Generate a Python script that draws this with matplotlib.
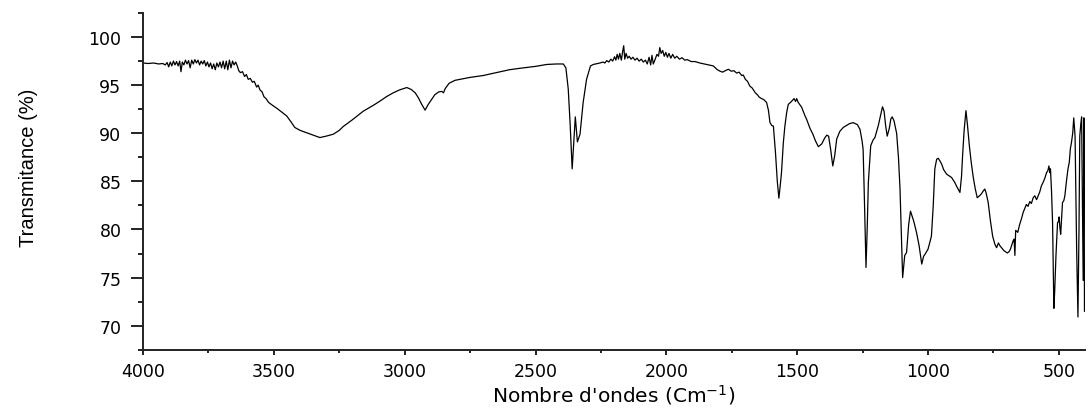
import numpy as np
import matplotlib
matplotlib.use("Agg")
import matplotlib.pyplot as plt
from matplotlib.ticker import MultipleLocator

plt.rcParams['mathtext.default'] = 'regular'

# ---- FTIR spectrum, read point by point (wavenumber in cm-1, transmittance in %) ----
# 4000 - 2250 : O-H band, C-H stretch, CO2 doublet
wn_high = [4000, 3980, 3960, 3940, 3925, 3915, 3908, 3902, 3896, 3890, 3884, 3878, 3872, 3866,
           3860, 3855, 3850, 3844, 3838, 3832, 3826, 3820, 3814, 3808, 3802, 3796, 3790, 3784,
           3778, 3772, 3766, 3760, 3754, 3748, 3742, 3736, 3730, 3724, 3718, 3712, 3706, 3700,
           3694, 3688, 3682, 3676, 3670, 3664, 3658, 3652, 3646, 3640, 3634, 3628, 3620, 3612,
           3605, 3598, 3590, 3582, 3575, 3566, 3560, 3553, 3545, 3538, 3530, 3520, 3505, 3489,
           3470, 3451, 3435, 3420, 3400, 3375, 3350, 3324, 3300, 3273, 3250, 3235, 3200, 3158,
           3120, 3094, 3070, 3044, 3020, 2992, 2975, 2960, 2948, 2935, 2922, 2910, 2900, 2885,
           2870, 2858, 2852, 2845, 2830, 2808, 2780, 2751, 2700, 2649, 2600, 2560, 2500, 2457,
           2420, 2394, 2384, 2375, 2368, 2360, 2353, 2348, 2340, 2330, 2318, 2305, 2290, 2279,
           2254]
t_high = [97.3, 97.25, 97.3, 97.2, 97.25, 97.1, 97.35, 96.9, 97.4, 97.0, 97.5, 97.1, 97.45, 97.0,
          97.5, 96.4, 97.4, 97.1, 97.6, 97.2, 97.55, 96.8, 97.6, 97.2, 97.65, 97.3, 97.6, 97.1,
          97.5, 97.2, 97.55, 97.0, 97.4, 96.9, 97.3, 96.7, 97.2, 96.6, 97.3, 96.9, 97.4, 96.8,
          97.5, 96.7, 97.5, 96.6, 97.6, 96.8, 97.5, 97.1, 97.4, 97.0, 96.5, 96.3, 96.4, 95.9,
          96.1, 95.6, 95.7, 95.3, 95.4, 94.8, 95.0, 94.5, 94.3, 93.8, 93.6, 93.2, 92.9, 92.6,
          92.2, 91.8, 91.2, 90.6, 90.3, 90.05, 89.8, 89.55, 89.7, 89.9, 90.3, 90.7, 91.4, 92.3,
          92.9, 93.35, 93.8, 94.2, 94.5, 94.75, 94.55, 94.2, 93.7, 93.0, 92.4, 93.0, 93.4, 94.0,
          94.3, 94.35, 94.2, 94.65, 95.2, 95.5, 95.65, 95.8, 96.0, 96.3, 96.6, 96.75, 96.95, 97.15,
          97.2, 97.2, 96.8, 94.6, 91.1, 86.3, 89.4, 91.7, 89.1, 89.9, 93.2, 95.6, 97.0, 97.15,
          97.3]

# 2250 - 1605 : noisy plateau and shoulder
wn_mid = [2242, 2235, 2228, 2220, 2212, 2205, 2198, 2193, 2188, 2183, 2178, 2172, 2167, 2163,
          2159, 2154, 2148, 2142, 2135, 2128, 2120, 2112, 2104, 2096, 2088, 2080, 2073, 2066,
          2060, 2055, 2050, 2044, 2036, 2030, 2025, 2020, 2014, 2008, 2002, 1996, 1990, 1983,
          1976, 1968, 1960, 1950, 1940, 1930, 1920, 1905, 1890, 1872, 1855, 1840, 1821, 1805,
          1795, 1785, 1775, 1763, 1752, 1742, 1731, 1722, 1712, 1706, 1698, 1690, 1681, 1672,
          1665, 1660, 1652, 1645, 1636, 1628, 1617, 1610]
t_mid = [97.4, 97.3, 97.55, 97.4, 97.7, 97.5, 97.95, 97.6, 98.2, 97.7, 98.3, 97.6, 98.5, 99.1,
         97.7, 98.3, 97.8, 98.0, 97.7, 97.9, 97.6, 97.8, 97.5, 97.7, 97.4, 97.6, 97.2, 97.9,
         97.1, 98.1, 97.2, 97.6, 98.2, 98.0, 98.9, 98.3, 98.6, 98.0, 98.4, 97.9, 98.3, 97.8,
         98.2, 97.8, 98.0, 97.7, 97.85, 97.6, 97.65, 97.45, 97.45, 97.3, 97.2, 97.1, 97.0, 96.6,
         96.45, 96.35, 96.5, 96.65, 96.45, 96.5, 96.25, 96.35, 96.0, 96.05, 95.6, 95.4, 94.9, 94.7,
         94.4, 94.2, 94.0, 93.75, 93.6, 93.5, 93.2, 92.4]

# 1605 - 400 : fingerprint region
wn_low = [1604, 1597, 1591, 1583, 1576, 1570, 1565, 1560, 1553, 1547, 1540, 1534, 1522, 1512,
          1506, 1502, 1496, 1483, 1470, 1464, 1451, 1440, 1430, 1419, 1406, 1395, 1387, 1380,
          1372, 1364, 1357, 1349, 1337, 1324, 1300, 1286, 1270, 1260, 1252, 1248, 1243, 1237,
          1232, 1228, 1219, 1210, 1203, 1190, 1182, 1174, 1168, 1162, 1156, 1148, 1142, 1137,
          1130, 1120, 1113, 1107, 1102, 1097, 1089, 1082, 1074, 1067, 1055, 1044, 1034, 1024,
          1017, 1012, 1000, 987, 980, 974, 967, 961, 954, 948, 940, 929, 910, 898,
          891, 878, 872, 868, 862, 855, 849, 842, 835, 827, 820, 812, 803, 796,
          789, 783, 778, 770, 762, 753, 745, 738, 731, 725, 719, 710, 697, 690,
          685, 675, 671, 668, 665, 660, 657, 650, 643, 636, 630, 624, 618, 611,
          605, 598, 592, 585, 579, 573, 567, 560, 554, 547, 542, 538, 534, 532,
          528, 524, 521, 519, 516, 511, 505, 502, 499, 496, 493, 489, 486, 481,
          477, 471, 465, 460, 456, 452, 447, 443, 438, 432, 427, 423, 420, 416,
          413, 409, 407, 405, 404, 403, 402]
t_low = [91.1, 90.8, 90.75, 88.0, 85.0, 83.25, 84.5, 85.9, 89.0, 90.75, 92.2, 93.0, 93.3, 93.6,
         93.3, 93.6, 93.2, 92.7, 91.8, 91.45, 90.5, 89.9, 89.2, 88.6, 88.9, 89.5, 89.8, 89.7,
         88.3, 86.6, 87.6, 89.4, 90.2, 90.6, 91.0, 91.1, 90.9, 90.4, 89.2, 88.3, 83.0, 76.05,
         80.5, 84.9, 88.7, 89.3, 89.55, 90.8, 91.8, 92.75, 92.3, 90.8, 89.7, 90.5, 91.5, 91.7,
         91.3, 90.0, 87.5, 84.2, 79.5, 75.0, 77.3, 77.6, 80.5, 81.9, 80.9, 79.7, 78.3, 76.4,
         77.2, 77.4, 77.95, 79.3, 82.5, 86.3, 87.3, 87.4, 87.1, 86.8, 86.2, 85.75, 85.4, 84.9,
         84.5, 83.85, 85.5, 87.6, 90.3, 92.35, 90.8, 88.7, 87.0, 85.4, 84.3, 83.3, 83.5, 83.7,
         84.0, 84.2, 83.8, 82.8, 81.0, 79.3, 78.5, 78.1, 78.6, 78.3, 78.1, 77.8, 77.55, 77.7,
         77.95, 78.8, 79.0, 77.3, 79.9, 79.8, 79.7, 80.5, 81.1, 81.8, 82.2, 82.6, 82.4, 82.9,
         82.7, 83.3, 83.5, 83.1, 83.5, 83.9, 84.5, 84.9, 85.3, 85.9, 86.1, 86.6, 85.9, 86.3,
         84.0, 80.7, 75.5, 71.8, 73.5, 77.3, 80.7, 80.8, 81.3, 80.2, 79.5, 81.5, 82.8, 83.0,
         83.5, 85.0, 86.3, 87.0, 88.4, 89.0, 90.0, 91.6, 89.7, 78.0, 70.9, 80.0, 89.7, 91.0,
         91.7, 80.0, 74.7, 85.0, 91.6, 80.0, 71.5]

x_ticks = [4000, 3500, 3000, 2500, 2000, 1500, 1000, 500]
y_ticks = [70, 75, 80, 85, 90, 95, 100]

wavenumber = np.array(wn_high + wn_mid + wn_low)
transmittance = np.array(t_high + t_mid + t_low)

fig = plt.figure(figsize=(10.92, 4.10), dpi=100)
ax = fig.add_axes([0.131, 0.1446, 0.8626, 0.8213])

ax.plot(wavenumber, transmittance, color='black', linewidth=0.9)

ax.set_xlim(4000, 400)
ax.set_ylim(67.5, 102.5)
ax.set_xticks(x_ticks)
ax.set_yticks(y_ticks)
ax.xaxis.set_minor_locator(MultipleLocator(250))
ax.yaxis.set_minor_locator(MultipleLocator(2.5))

for side in ['top', 'right']:
    ax.spines[side].set_visible(False)
for side in ['left', 'bottom']:
    ax.spines[side].set_linewidth(1.4)
    ax.spines[side].set_color('#222222')

ax.tick_params(axis='y', which='major', direction='out', length=8.6, width=1.4, pad=7,
               labelsize=12.5, color='#222222')
ax.tick_params(axis='y', which='minor', direction='out', length=3.6, width=1.4, color='#222222')
ax.tick_params(axis='x', which='major', direction='out', length=3.6, width=1.4, pad=5,
               labelsize=12.5, color='#222222')
ax.tick_params(axis='x', which='minor', direction='out', length=2.2, width=1.4, color='#222222')
for lab in ax.get_xticklabels() + ax.get_yticklabels():
    lab.set_family('DejaVu Sans')

ax.set_xlabel("Nombre d'ondes (Cm$^{-1}$)", fontsize=14.5, family='DejaVu Sans',
              va='center')
ax.xaxis.set_label_coords(0.5, -0.131)
ax.set_ylabel("Transmitance (%)", fontsize=14.5,
              family=['Liberation Sans Narrow', 'Liberation Sans'])
ax.yaxis.set_label_coords(-0.111, 0.543)

fig.savefig('out.png', dpi=100, facecolor='white')
